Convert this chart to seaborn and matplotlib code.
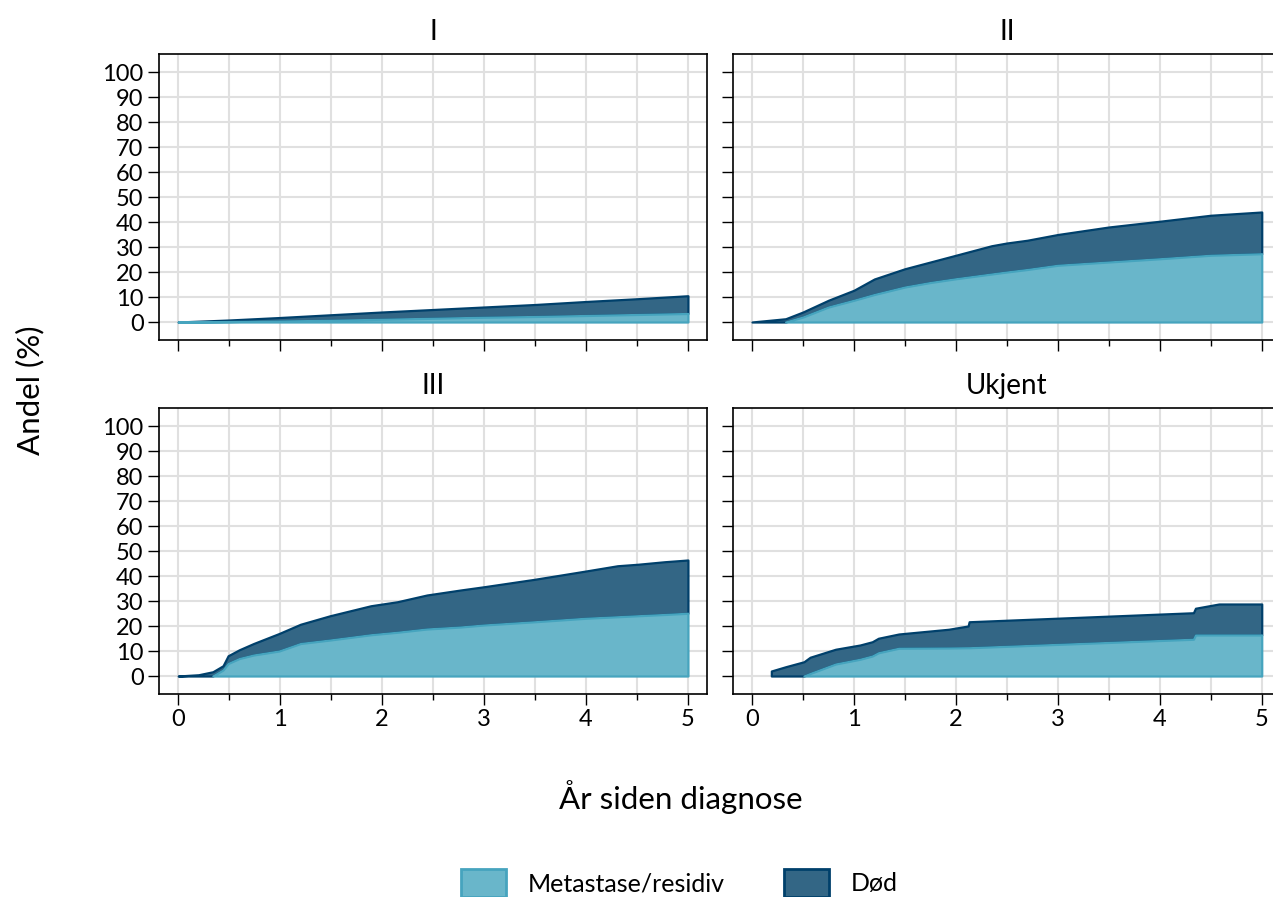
import matplotlib
matplotlib.use("Agg")
import matplotlib.pyplot as plt
from matplotlib.patches import Patch
from matplotlib.ticker import MultipleLocator
import numpy as np
import pandas as pd
import seaborn as sns

# kumulativ andel (%) per stadium: metastase/residiv nederst, død stablet oppå
stadier = ["I", "II", "III", "Ukjent"]

tid_I = [0, 0.5, 1, 1.5, 2, 2.5, 3, 3.5, 4, 4.5, 5]
meta_I = [0, 0.2, 0.4, 0.7, 1.1, 1.5, 1.9, 2.2, 2.6, 3.0, 3.4]
dod_I = [0, 0.6, 1.4, 2.2, 2.9, 3.5, 4.1, 4.8, 5.6, 6.3, 7.1]

tid_II = [0, 0.33, 0.5, 0.75, 1, 1.2, 1.5, 1.75, 2, 2.35, 2.5, 2.7, 3, 3.5, 4, 4.5, 5]
meta_II = [0, 0, 2, 6, 8.7, 11, 14, 15.8, 17.3, 19.2, 20, 21, 22.7, 24, 25.3, 26.7, 27.3]
dod_II = [0, 1.3, 2.0, 2.7, 4.0, 6.2, 7.3, 8.2, 9.4, 11.3, 11.6, 11.7, 12.3, 14.0, 15.0, 16.0, 16.7]

tid_III = [0, 0.2, 0.34, 0.44, 0.49, 0.6, 0.74, 0.99, 1.2, 1.49, 1.89, 2.15, 2.44, 2.77,
           3, 3.5, 4, 4.31, 4.51, 4.77, 5]
meta_III = [0, 0, 0, 2.4, 5.0, 7, 8.4, 10, 13, 14.4, 16.5, 17.5, 18.8, 19.6,
            20.4, 21.7, 23.1, 23.7, 24.1, 24.6, 25.1]
dod_III = [0, 0.5, 1.7, 1.7, 3.1, 3.5, 4.6, 7.0, 7.7, 9.7, 11.6, 12.2, 13.6, 14.8,
           15.3, 17.0, 18.9, 20.4, 20.6, 21.1, 21.3]

tid_U = [0.19, 0.33, 0.51, 0.57, 0.82, 1.06, 1.18, 1.24, 1.44, 1.93, 2.12, 2.13, 4.33, 4.35, 4.58, 5]
meta_U = [0, 0, 0, 1.0, 4.8, 6.7, 8, 9.3, 11.1, 11.2, 11.3, 11.3, 14.7, 16.4, 16.4, 16.4]
dod_U = [2, 3.7, 5.7, 6.5, 5.9, 5.7, 5.7, 5.8, 5.7, 7.5, 8.7, 10.4, 10.6, 10.7, 12.4, 12.4]

serier = ["Metastase/residiv", "Død"]
y_ticks = list(range(0, 101, 10))
x_ticks = [0, 1, 2, 3, 4, 5]

LYS, LYS_KANT = "#69b6ca", "#46a4be"
MORK, MORK_KANT = "#336685", "#00406b"

frames = []
for navn, t, m, d in zip(stadier, [tid_I, tid_II, tid_III, tid_U],
                         [meta_I, meta_II, meta_III, meta_U],
                         [dod_I, dod_II, dod_III, dod_U]):
    frames.append(pd.DataFrame({"stadium": navn, "tid": t, "meta": m, "dod": d}))
df = pd.concat(frames, ignore_index=True)


def stacked_area(data, **kws):
    ax = plt.gca()
    t = data["tid"].to_numpy()
    meta = data["meta"].to_numpy()
    topp = meta + data["dod"].to_numpy()
    ax.fill_between(t, meta, topp, facecolor=MORK, edgecolor=MORK_KANT,
                    linewidth=1.6, zorder=2)
    start = max(np.argmax(meta > 0) - 1, 0)
    ax.fill_between(t[start:], 0, meta[start:], facecolor=LYS, edgecolor=LYS_KANT,
                    linewidth=1.6, zorder=3)


sns.set_theme(style="whitegrid")
plt.rcParams["font.family"] = ["Lato", "DejaVu Sans"]
plt.rcParams["axes.edgecolor"] = "black"
plt.rcParams["text.color"] = "black"
plt.rcParams["axes.labelcolor"] = "black"
plt.rcParams["xtick.color"] = "black"
plt.rcParams["ytick.color"] = "black"

g = sns.FacetGrid(df, col="stadium", col_wrap=2, col_order=stadier,
                  height=4, aspect=1.5, despine=False, sharex=True, sharey=True)
g.map_dataframe(stacked_area)
g.set_titles("{col_name}", size=20, pad=10, color="black")
g.set_axis_labels("", "")

fig = g.figure
fig.set_size_inches(12.73, 8.97)
fig.set_dpi(100)

W, H = 1273, 897
lefts = [158.8, 732.6]
tops = [54, 408]
bredde, hoyde = 548.5, 286
for i, ax in enumerate(g.axes.flat):
    r, c = divmod(i, 2)
    ax.set_position([lefts[c] / W, 1 - (tops[r] + hoyde) / H, bredde / W, hoyde / H])
    ax.set_xlim(-0.19, 5.19)
    ax.set_ylim(-7.2, 107.2)
    ax.set_yticks(y_ticks)
    ax.set_xticks(x_ticks)
    ax.xaxis.set_minor_locator(MultipleLocator(0.5))
    ax.grid(which="major", color="#e0e0e0", linewidth=1.5)
    ax.grid(which="minor", axis="x", color="#e0e0e0", linewidth=1.5)
    ax.tick_params(axis="both", which="major", bottom=True, left=True, direction="out",
                   length=8, width=1, color="black", labelcolor="black", labelsize=17, pad=3)
    ax.tick_params(axis="x", which="minor", bottom=True, direction="out",
                   length=4, width=1, color="black")
    ax.tick_params(labelbottom=(r == 1), labelleft=(c == 0))
    for sp in ax.spines.values():
        sp.set_color("black")
        sp.set_linewidth(1.2)

fig.text(30 / W, 1 - 390 / H, "Andel (%)", rotation=90, ha="center", va="center",
         fontsize=22.5, color="black")
fig.text(681 / W, 1 - 797 / H, "År siden diagnose", ha="center", va="center",
         fontsize=22.5, color="black")

handles = [Patch(facecolor=LYS, edgecolor=LYS_KANT, linewidth=2),
           Patch(facecolor=MORK, edgecolor=MORK_KANT, linewidth=2)]
fig.legend(handles=handles, labels=serier, loc="center left",
           bbox_to_anchor=(461 / W, 1 - 883 / H), ncol=2, frameon=False, fontsize=18,
           handlelength=1.8, handleheight=1.36, handletextpad=0.85, columnspacing=2.4,
           borderpad=0, borderaxespad=0)

fig.savefig("out.png", dpi=100)
